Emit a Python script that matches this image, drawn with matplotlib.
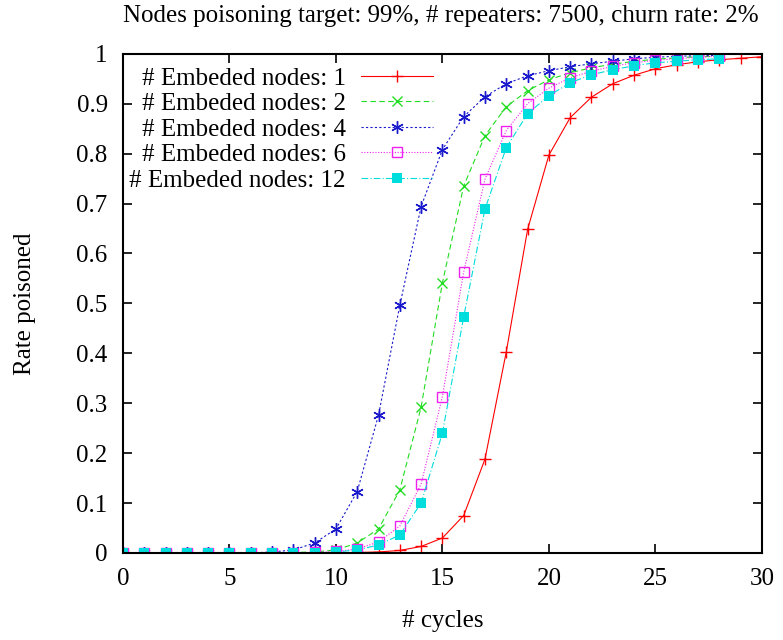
import numpy as np
import matplotlib.pyplot as plt

plt.rcParams["font.family"] = ["Liberation Serif", "DejaVu Serif"]

cycles_long = list(range(0, 31))
cycles = list(range(0, 29))

# rate poisoned per cycle
rate_1 = [0, 0, 0, 0, 0, 0, 0, 0, 0, 0, 0, 0.001, 0.002, 0.005, 0.013, 0.03,
          0.075, 0.188, 0.403, 0.648, 0.797, 0.872, 0.913, 0.94, 0.957, 0.97,
          0.978, 0.984, 0.988, 0.991, 0.994]
rate_2 = [0, 0, 0, 0, 0, 0, 0, 0, 0.001, 0.002, 0.006, 0.02, 0.048, 0.126,
          0.292, 0.541, 0.735, 0.836, 0.894, 0.926, 0.948, 0.962, 0.972, 0.979,
          0.985, 0.989, 0.992, 0.994, 0.995]
rate_4 = [0, 0, 0, 0, 0, 0, 0, 0.002, 0.006, 0.02, 0.048, 0.123, 0.276, 0.496,
          0.694, 0.808, 0.874, 0.914, 0.94, 0.956, 0.966, 0.974, 0.98, 0.985,
          0.99, 0.993, 0.995, 0.996, 0.997]
rate_6 = [0, 0, 0, 0, 0, 0, 0, 0, 0, 0.001, 0.003, 0.008, 0.022, 0.054, 0.138,
          0.313, 0.563, 0.749, 0.846, 0.9, 0.931, 0.952, 0.965, 0.975, 0.982,
          0.987, 0.99, 0.993, 0.995]
rate_12 = [0, 0, 0, 0, 0, 0, 0, 0, 0, 0, 0.002, 0.006, 0.016, 0.036, 0.1,
           0.24, 0.473, 0.689, 0.812, 0.88, 0.916, 0.942, 0.958, 0.968, 0.976,
           0.982, 0.985, 0.988, 0.99]

fs = 18

fig = plt.figure(figsize=(7.83, 6.4), dpi=100)
ax = fig.add_axes([0.157, 0.136, 0.816, 0.78])

ax.plot(cycles_long, rate_1, color="red", linestyle="-", linewidth=0.8,
        marker="+", markersize=9, markeredgewidth=1.0,
        label="# Embeded nodes: 1")
ax.plot(cycles, rate_2, color="#22dd22", linestyle=(0, (5, 3)), linewidth=0.8,
        marker="x", markersize=7.5, markeredgewidth=1.0,
        label="# Embeded nodes: 2")
ax.plot(cycles, rate_4, color="#1a1acc", linestyle=(0, (2, 2)), linewidth=0.8,
        marker=(6, 2, 0), markersize=9, markeredgewidth=1.0,
        label="# Embeded nodes: 4")
ax.plot(cycles, rate_6, color="#ee22ee", linestyle=(0, (1, 1.5)), linewidth=0.8,
        marker="s", markersize=7.5, markerfacecolor="none", markeredgewidth=1.0,
        label="# Embeded nodes: 6")
ax.plot(cycles, rate_12, color="#00dddd", linestyle=(0, (6, 2, 1, 2)), linewidth=0.8,
        marker="s", markersize=7.5, markeredgewidth=0,
        label="# Embeded nodes: 12")

ax.set_xlim(0, 30)
ax.set_ylim(0, 1)
ax.set_xticks(range(0, 31, 5))
ax.set_yticks(np.arange(0, 1.01, 0.1))
ax.set_yticklabels(["0", "0.1", "0.2", "0.3", "0.4", "0.5", "0.6", "0.7",
                    "0.8", "0.9", "1"])
ax.tick_params(direction="in", length=6.5, width=1.2, labelsize=fs,
               top=True, right=True)
ax.tick_params(axis="y", pad=11)
ax.tick_params(axis="x", pad=11)
for s in ax.spines.values():
    s.set_linewidth(1.5)

ax.set_xlabel("# cycles", fontsize=fs, va="center")
ax.xaxis.set_label_coords(0.5, -0.136)
ax.set_ylabel("Rate poisoned", fontsize=fs, va="center")
ax.yaxis.set_label_coords(-0.153, 0.5)
fig.text(0.563, 0.975, "Nodes poisoning target: 99%, # repeaters: 7500, churn rate: 2%",
         ha="center", va="center", fontsize=fs)

ax.legend(loc="upper left", bbox_to_anchor=(0.006, 0.978), frameon=False,
          markerfirst=False, fontsize=fs, handlelength=2.9, labelspacing=0.12,
          borderaxespad=0.0, handletextpad=0.6, borderpad=0.1, numpoints=1)

plt.savefig("out.png", dpi=100)
